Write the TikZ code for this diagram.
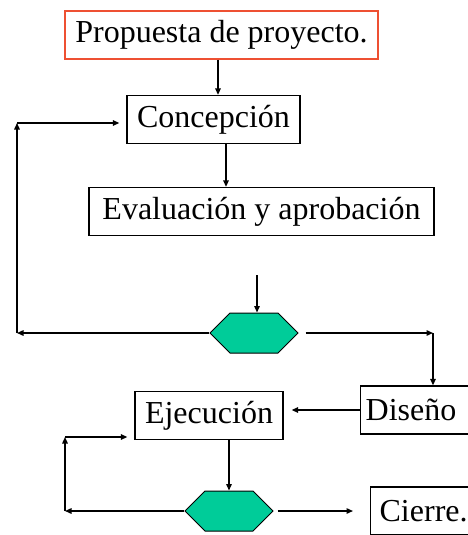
\documentclass[tikz,border=0pt]{standalone}
\usepackage{fontspec}
\setmainfont{Liberation Serif}
\usetikzlibrary{arrows.meta,positioning,shapes.symbols}
\definecolor{hexverde}{RGB}{0,204,153}
\definecolor{rojoborde}{RGB}{238,80,50}

\begin{document}
\begin{tikzpicture}[x=1pt,y=-1pt,line width=1.4pt,>={Triangle[length=6.5pt,width=5.5pt]},
        paso/.style={draw,line width=1.3pt,inner sep=0pt,minimum height=48pt,font=\fontsize{32}{36}\selectfont},
        abierto/.style={paso,anchor=west,text width=100pt,inner xsep=5pt,align=left},
        decision/.style={signal,signal to=west and east,signal pointer angle=90,fill=hexverde,draw,line width=1pt,
            minimum width=88pt,minimum height=40pt,inner sep=0pt}]
        \useasboundingbox (0,0) rectangle (468,535);

        \node[paso,draw=rojoborde,minimum width=313pt] (prop) at (221.5,35) {Propuesta de proyecto.};
        \node[paso,minimum width=173pt] (conc) at (213.5,119.5) {Concepción};
        \node[paso,minimum width=345pt] (eval) at (261.5,211.5) {Evaluación y aprobación};
        \node[decision] (dec1) at (254,333) {};
        \node[abierto] (dis) at (360,410) {Diseño};
        \node[paso,minimum width=148pt] (ejec) at (209,415.5) {Ejecución};
        \node[decision] (dec2) at (229,511) {};
        \node[abierto,inner xsep=9pt] (cier) at (370,511) {Cierre.};

        \coordinate (in1) at (257,275);
        \coordinate (c1) at (17,333);
        \coordinate (c2) at (17,123);
        \coordinate (c3) at (433,333);
        \coordinate (c4) at (65,511);
        \coordinate (c5) at (65,437);

        % camino principal
        \draw[->] ([xshift=-3.5pt]prop.south) -- ([xshift=-3.5pt]prop.south |- conc.north);
        \draw[->] ([xshift=12.5pt]conc.south) -- ([xshift=12.5pt]conc.south |- eval.north);
        \draw[->] (in1) -- (in1 |- dec1.north);
        \draw[->] ([xshift=7pt]dec1.east) -- (c3);
        \draw[->] (c3) -- (c3 |- dis.north);
        \draw[->,shorten >=8pt] (dis.west) -- (dis.west -| ejec.east);
        \draw[->] (dec2.north |- ejec.south) -- (dec2.north);
        \draw[->,shorten >=17pt] ([xshift=4pt]dec2.east) -- (cier.west |- dec2.east);

        % vueltas atras
        \draw[->] (dec1.west) -- (c1);
        \draw[->] (c1) -- (c2);
        \draw[->,shorten >=7pt] (c2) -- (conc.west |- c2);
        \draw[->] (dec2.west) -- (c4);
        \draw[->] (c4) -- (c5);
        \draw[->,shorten >=7pt] (c5) -- (ejec.west |- c5);
\end{tikzpicture}
\end{document}
